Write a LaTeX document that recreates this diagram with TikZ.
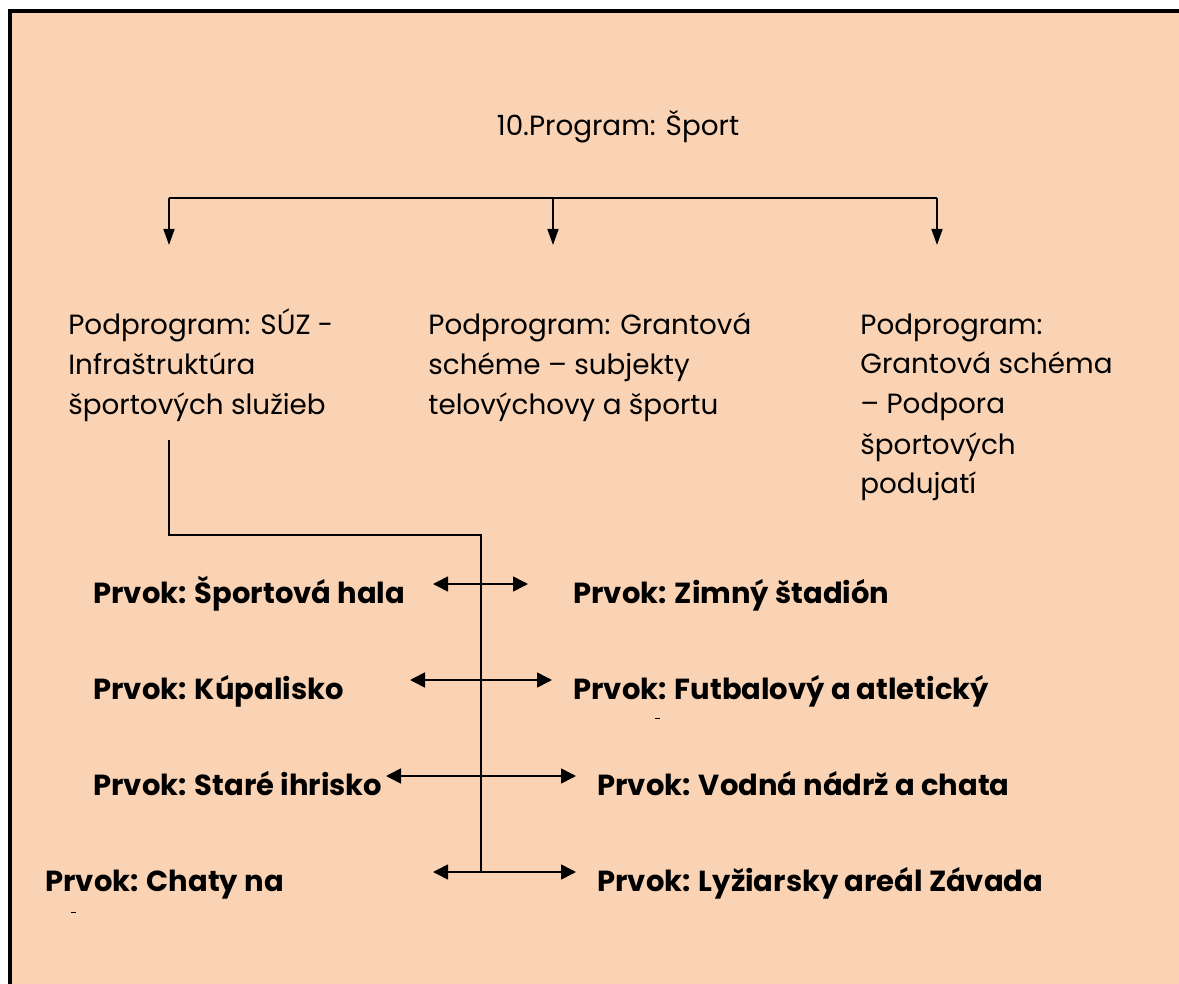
\documentclass[tikz,border=0pt]{standalone}
\usepackage{fontspec}
\setmainfont{Poppins}
\usetikzlibrary{arrows.meta,positioning}
\definecolor{peach}{HTML}{FAD3B4}
\tikzset{
  podprog/.style={anchor=base west, align=left, inner sep=0pt, font=\fontsize{13.9}{20}\selectfont},
  prvok/.style={anchor=base west, inner sep=0pt, font=\bfseries\fontsize{14.5}{20}\selectfont},
  down/.style={-{Triangle[length=8pt,width=5.5pt]}, line width=0.8pt},
  both/.style={{Triangle[length=7.5pt,width=7.5pt]}-{Triangle[length=7.5pt,width=7.5pt]}, line width=0.8pt},
  trunk/.style={line width=0.8pt}
}

\begin{document}
\begin{tikzpicture}[x=0.5pt,y=-0.5pt]
  \useasboundingbox (0,0) rectangle (1179,984);
  \fill[white] (0,0) rectangle (1179,984);
  \fill[peach] (10,11) rectangle (1179,984);
  \draw[line width=2pt] (10,984) -- (10,11) -- (1179,11);

  \node[anchor=base, inner sep=0pt, font=\fontsize{13.9}{20}\selectfont] (title) at (618,136) {10.Program: Šport};

  % podprogramy
  \node[podprog] (sub1) at (68,415) {Podprogram: SÚZ -\\Infraštruktúra\\športových služieb};
  \node[podprog] (sub2) at (428,415) {Podprogram: Grantová\\schéme -- subjekty\\telovýchovy a športu};
  \node[podprog] (sub3) at (860,494) {Podprogram:\\Grantová schéma\\-- Podpora\\športových\\podujatí};

  \coordinate (top1) at (169,198);
  \coordinate (top2) at (553,198);
  \coordinate (top3) at (937,198);
  \coordinate (tip1) at (169,245);
  \coordinate (tip2) at (553,245);
  \coordinate (tip3) at (937,245);
  \draw[trunk] (top1) -- (top3);
  \draw[down] (top1) -- (tip1);
  \draw[down] (top2) -- (tip2);
  \draw[down] (top3) -- (tip3);

  % prvky
  \node[prvok] (p1) at (93,603) {Prvok: Športová hala};
  \node[prvok] (p2) at (573,603) {Prvok: Zimný štadión};
  \node[prvok] (p3) at (93,699) {Prvok: Kúpalisko};
  \node[prvok] (p4) at (573,699) {Prvok: Futbalový a atletický};
  \node[prvok] (p5) at (93,795) {Prvok: Staré ihrisko};
  \node[prvok] (p6) at (597,795) {Prvok: Vodná nádrž a chata};
  \node[prvok] (p7) at (45,891) {Prvok: Chaty na};
  \node[prvok] (p8) at (597,891) {Prvok: Lyžiarsky areál Závada};

  \coordinate (start) at (169,440);
  \coordinate (bend1) at (169,535);
  \coordinate (bend2) at (481,535);
  \coordinate (end) at (481,872);
  \draw[trunk] (start) -- (bend1) -- (bend2) -- (end);

  \coordinate (l1) at (433,584); \coordinate (r1) at (528,584);
  \coordinate (l2) at (410,680); \coordinate (r2) at (552,680);
  \coordinate (l3) at (386,776); \coordinate (r3) at (576,776);
  \coordinate (l4) at (433,872); \coordinate (r4) at (576,872);
  \foreach \i in {1,...,4}
    \draw[both] (l\i) -- (r\i);

  \draw[line width=0.5pt] (655,718) -- (660,718);
  \draw[line width=0.5pt] (71,912) -- (76,912);
\end{tikzpicture}
\end{document}
